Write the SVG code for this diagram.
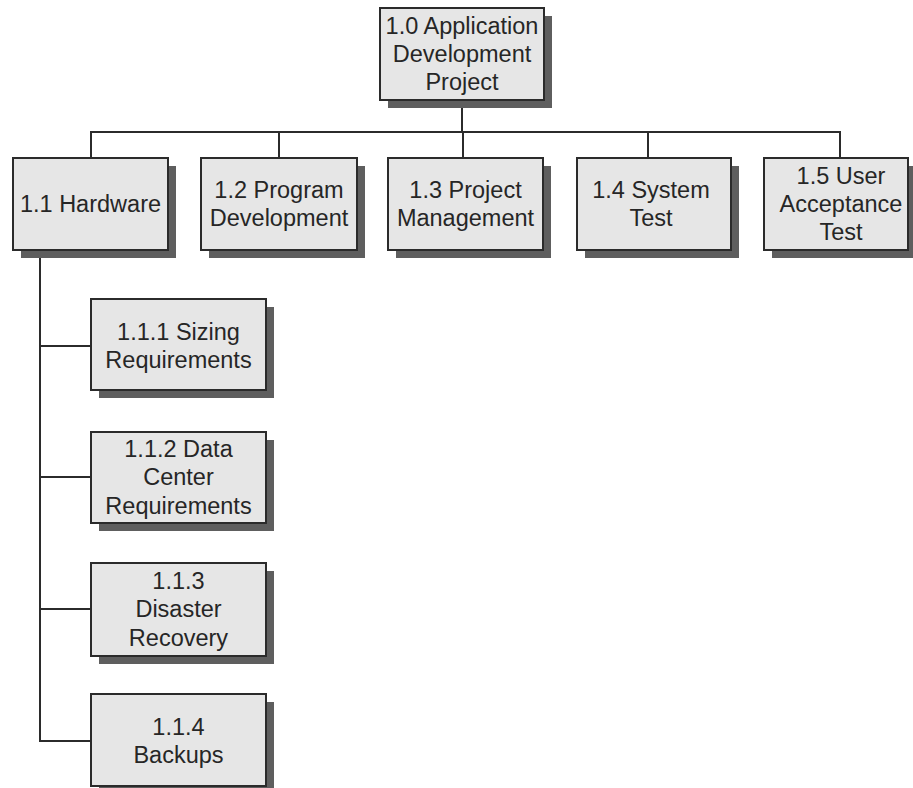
<svg xmlns="http://www.w3.org/2000/svg" width="913" height="788" viewBox="0 0 913 788">
  <style>
    .shadow { fill: #5e5e5e; }
    .box { fill: #e6e6e6; stroke: #2b2b2b; stroke-width: 2; }
    .label { font-family: "Liberation Sans", Arial, sans-serif; font-size: 23.5px; fill: #262626; text-anchor: middle; dominant-baseline: central; }
    .wire { fill: none; stroke: #2b2b2b; stroke-width: 2; }
  </style>
  <rect x="0" y="0" width="913" height="788" fill="#ffffff"/>

  <!-- connectors -->
  <g id="connectors" class="wire">
    <path d="M462 100 V132"/>
    <path d="M91 158 V132 H840 V158"/>
    <path d="M279 132 V158"/>
    <path d="M463 132 V158"/>
    <path d="M648 132 V158"/>
    <path d="M40 250 V741 H91"/>
    <path d="M40 346 H91"/>
    <path d="M40 477 H91"/>
    <path d="M40 609 H91"/>
  </g>

  <!-- root -->
  <g id="n1_0">
    <rect class="shadow" x="388" y="16" width="164" height="92"/>
    <rect class="box" x="380" y="8" width="164" height="92"/>
    <text class="label" x="462" y="26">1.0 Application</text>
    <text class="label" x="462" y="54">Development</text>
    <text class="label" x="462" y="82">Project</text>
  </g>

  <!-- level 1 -->
  <g id="n1_1">
    <rect class="shadow" x="21" y="166" width="155" height="92"/>
    <rect class="box" x="13" y="158" width="155" height="92"/>
    <text class="label" x="90.5" y="204">1.1 Hardware</text>
  </g>
  <g id="n1_2">
    <rect class="shadow" x="209" y="166" width="156" height="92"/>
    <rect class="box" x="201" y="158" width="156" height="92"/>
    <text class="label" x="279" y="190">1.2 Program</text>
    <text class="label" x="279" y="218">Development</text>
  </g>
  <g id="n1_3">
    <rect class="shadow" x="396" y="166" width="155" height="92"/>
    <rect class="box" x="388" y="158" width="155" height="92"/>
    <text class="label" x="465.5" y="190">1.3 Project</text>
    <text class="label" x="465.5" y="218">Management</text>
  </g>
  <g id="n1_4">
    <rect class="shadow" x="585" y="166" width="154" height="92"/>
    <rect class="box" x="577" y="158" width="154" height="92"/>
    <text class="label" x="651" y="190">1.4 System</text>
    <text class="label" x="651" y="218">Test</text>
  </g>
  <g id="n1_5">
    <rect class="shadow" x="772" y="166" width="144" height="92"/>
    <rect class="box" x="764" y="158" width="144" height="92"/>
    <text class="label" x="841" y="176">1.5 User</text>
    <text class="label" x="841" y="204">Acceptance</text>
    <text class="label" x="841" y="232">Test</text>
  </g>

  <!-- level 2 -->
  <g id="n1_1_1">
    <rect class="shadow" x="99" y="307" width="175" height="91"/>
    <rect class="box" x="91" y="299" width="175" height="91"/>
    <text class="label" x="178.5" y="332">1.1.1 Sizing</text>
    <text class="label" x="178.5" y="360">Requirements</text>
  </g>
  <g id="n1_1_2">
    <rect class="shadow" x="99" y="440" width="175" height="91"/>
    <rect class="box" x="91" y="432" width="175" height="91"/>
    <text class="label" x="178.5" y="449">1.1.2 Data</text>
    <text class="label" x="178.5" y="477">Center</text>
    <text class="label" x="178.5" y="506">Requirements</text>
  </g>
  <g id="n1_1_3">
    <rect class="shadow" x="99" y="571" width="175" height="93"/>
    <rect class="box" x="91" y="563" width="175" height="93"/>
    <text class="label" x="178.5" y="581">1.1.3</text>
    <text class="label" x="178.5" y="609">Disaster</text>
    <text class="label" x="178.5" y="638">Recovery</text>
  </g>
  <g id="n1_1_4">
    <rect class="shadow" x="99" y="702" width="175" height="92"/>
    <rect class="box" x="91" y="694" width="175" height="92"/>
    <text class="label" x="178.5" y="727">1.1.4</text>
    <text class="label" x="178.5" y="755">Backups</text>
  </g>
</svg>
